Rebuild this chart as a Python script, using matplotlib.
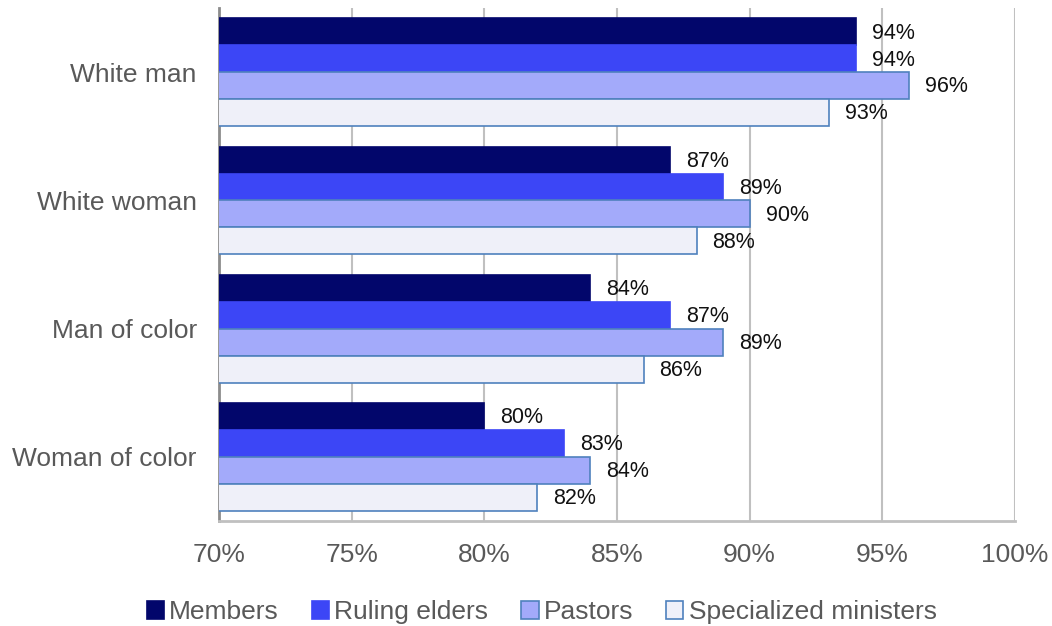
import numpy as np
import matplotlib.pyplot as plt
from matplotlib.ticker import PercentFormatter

plt.rcParams['font.family'] = ['Liberation Sans', 'DejaVu Sans']

# Share of respondents by group
groups = ['White man', 'White woman', 'Man of color', 'Woman of color']
series = ['Members', 'Ruling elders', 'Pastors', 'Specialized ministers']
members = [94, 87, 84, 80]
ruling_elders = [94, 89, 87, 83]
pastors = [96, 90, 89, 84]
specialized = [93, 88, 86, 82]
values = [members, ruling_elders, pastors, specialized]

fills = ['#02066b', '#3c46f6', '#a3aafa', '#eff0f9']
edges = ['#02066b', '#3c46f6', '#4f81bd', '#4f81bd']

fig = plt.figure(figsize=(10.52, 6.26), dpi=100)
ax = fig.add_axes([0.2082, 0.1677, 0.7566, 0.8193])

bar_h = 0.21
y_base = np.arange(len(groups))
for i, (name, vals) in enumerate(zip(series, values)):
    y = y_base + (i - 1.5) * bar_h
    bars = ax.barh(y, vals, height=bar_h, left=0, color=fills[i],
                   edgecolor=edges[i], linewidth=1.2, label=name, zorder=3)
    for b, v in zip(bars, vals):
        ax.text(v + 0.6, b.get_y() + b.get_height() / 2 + 0.01, f'{v}%',
                ha='left', va='center', fontsize=15.5, color='#111111', zorder=4)

ax.set_xlim(70, 100)
ax.set_ylim(len(groups) - 0.5, -0.5)
ax.set_xticks(np.arange(70, 101, 5))
ax.xaxis.set_major_formatter(PercentFormatter(decimals=0))
ax.set_yticks(y_base)
ax.set_yticklabels(groups)
ax.tick_params(axis='both', length=0, labelsize=19, labelcolor='#595959')
ax.tick_params(axis='x', pad=16)
ax.tick_params(axis='y', pad=16)

ax.grid(axis='x', color='#c0c0c0', linewidth=1.5, zorder=0)
for side in ['top', 'right']:
    ax.spines[side].set_visible(False)
ax.spines['left'].set_color('#8c8c8c')
ax.spines['left'].set_linewidth(2)
ax.spines['bottom'].set_color('#c0c0c0')
ax.spines['bottom'].set_linewidth(2)

leg = fig.legend(loc='center', bbox_to_anchor=(0.515, 0.022), ncol=4,
                 frameon=False, fontsize=19, handlelength=0.65, handleheight=0.65,
                 handletextpad=0.2, columnspacing=1.25)
for t in leg.get_texts():
    t.set_color('#595959')

fig.savefig('out.png', dpi=100)
